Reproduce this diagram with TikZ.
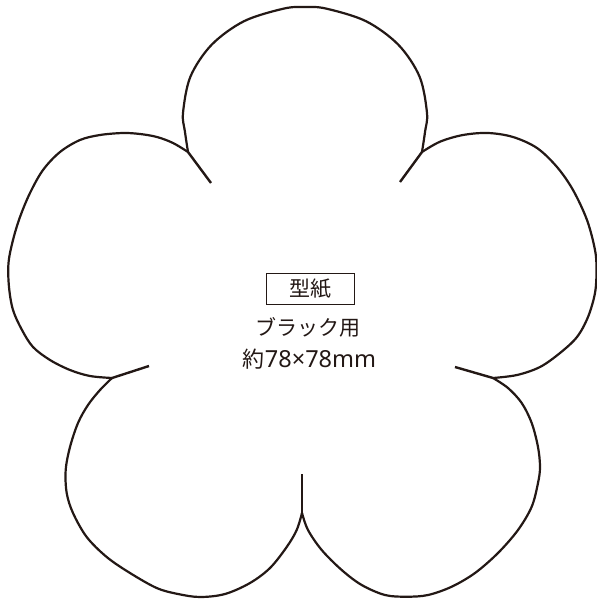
\documentclass[tikz,border=0pt]{standalone}
\usepackage{fontspec}
\newfontfamily\jpfont{Noto Sans CJK JP}
\newfontfamily\latfont{Noto Sans}
\definecolor{ink}{HTML}{231815}
\begin{document}
\begin{tikzpicture}[x=1pt,y=-1pt,
  outline/.style={line width=2.2pt, draw=ink, line cap=round, line join=round},
  cutline/.style={line width=2.4pt, draw=ink, line cap=butt},
  txt/.style={font=\jpfont\fontsize{21}{21}\selectfont, text=ink, inner sep=0pt},
  tagbox/.style={txt, draw=ink, line width=0.8pt, minimum width=88pt, minimum height=31pt}]
\useasboundingbox (0,0) rectangle (597,603);
\fill[white] (0,0) rectangle (597,603);
% junctions
\coordinate (J1) at (188,152);
\coordinate (J2) at (422,152);
\coordinate (J3) at (493,378);
\coordinate (J4) at (302,513);
\coordinate (J5) at (112,378);
% inner ends of the cuts
\coordinate (C1) at (211,183);
\coordinate (C2) at (400,182);
\coordinate (C3) at (455,367);
\coordinate (C4) at (302,474);
\coordinate (C5) at (149,366);
% top petal
\draw[outline] plot[smooth, tension=0.55] coordinates {(188,152) (184.9,131.4) (183,113) (190.4,76.7) (211.5,44.9) (244,21.2) (283.8,8.6) (305,7) (326.2,8.6) (366,21.2) (398.5,44.9) (419.6,76.7) (427,113) (425.1,131.4) (422,152)};
% right upper petal
\draw[outline] plot[smooth, tension=0.55] coordinates {(422,152) (440,141.7) (463,135) (488,133) (513,137) (537,148) (557,167) (573,190) (587,220) (595,250) (596.5,270) (595,293) (588,317) (577,337) (560,353) (540,367) (517,375) (493,378)};
% right lower petal
\draw[outline] plot[smooth, tension=0.55] coordinates {(493,378) (508,388) (521.7,403) (531.7,423) (538,447) (540,467) (538,483) (531.7,506.7) (518,530) (498,553) (475,573) (451.7,586.7) (428,595) (406.7,596.7) (385,595) (361.7,585) (341.7,570) (321.7,550) (308,530) (302,513)};
% left lower petal
\draw[outline] plot[smooth, tension=0.55] coordinates {(302,513) (296.7,530) (286.7,547) (270,568) (250,583) (225,594) (200,597) (178,594) (156.7,588) (130,573) (106.7,557) (86.7,537) (73,513) (66.7,493) (65.7,470) (70,447) (78,423) (88,405) (100,390) (112,378)};
% left upper petal
\draw[outline] plot[smooth, tension=0.55] coordinates {(112,378) (90,376) (70,370) (50,360) (33,347) (22,330) (13,310) (9,287) (8.5,263) (13,240) (20,217) (30,193) (43,170) (60,152) (80,140) (100,135) (123,133) (140,134) (157,137) (173,143) (188,152)};
% cuts
\draw[cutline] (J1) -- (C1);
\draw[cutline] (J2) -- (C2);
\draw[cutline] (J3) -- (C3);
\draw[cutline] (J4) -- (C4);
\draw[cutline] (J5) -- (C5);
% texts
\node[tagbox] (title) at (310,288.5) {型紙};
\node[txt] (colour) at (307.5,327) {ブラック用};
\node[txt] (size) at (309.5,359) {\fontsize{22}{22}\selectfont 約\latfont\fontsize{23.5}{23.5}\selectfont 78×78mm};
\end{tikzpicture}
\end{document}
